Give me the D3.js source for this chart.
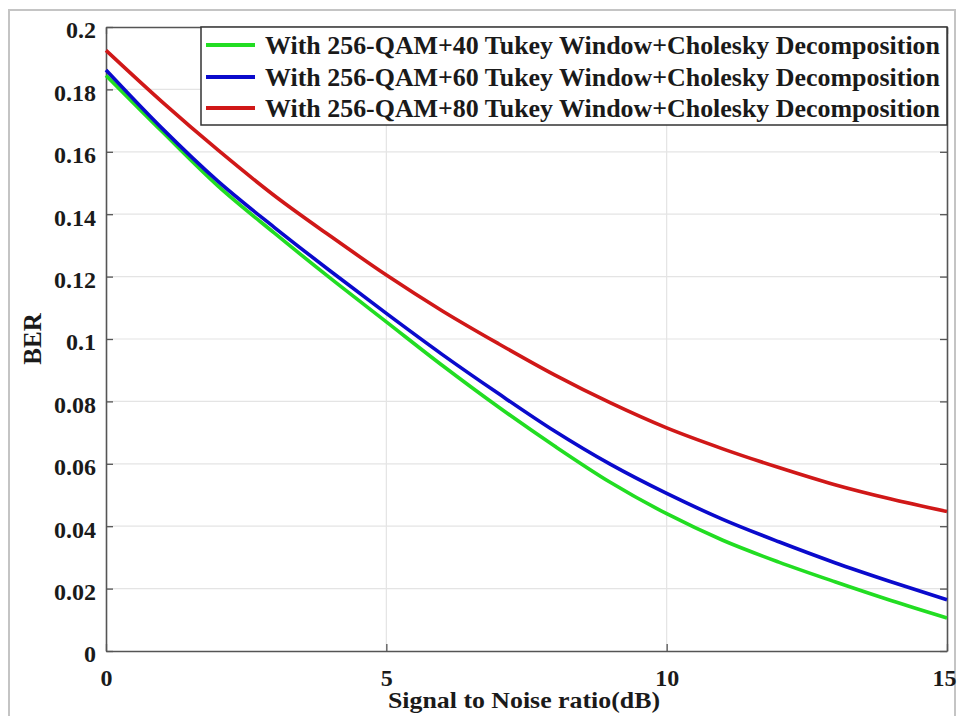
<!DOCTYPE html>
<html>
<head>
<meta charset="utf-8">
<script src="https://cdn.jsdelivr.net/npm/d3@7"></script>
<style>
  html, body { margin: 0; padding: 0; background: #fff; }
  svg { display: block; }
  text { font-family: "Liberation Serif", "Times New Roman", serif; font-weight: bold; fill: #1a1a1a; }
</style>
</head>
<body>
<svg id="chart" width="957" height="716"></svg>
<script>
const snr = [0, 1, 2, 3, 4, 5, 6, 7, 8, 9, 10, 11, 12, 13, 14, 15];
const ber40 = [0.1845, 0.1665, 0.1490, 0.1340, 0.1195, 0.1055, 0.0915, 0.0782, 0.0657, 0.0540, 0.0440, 0.0355, 0.0285, 0.0222, 0.0162, 0.0106];
const ber60 = [0.1862, 0.1675, 0.1505, 0.1358, 0.1218, 0.1082, 0.0950, 0.0825, 0.0705, 0.0598, 0.0505, 0.0422, 0.0350, 0.0283, 0.0222, 0.0164];
const ber80 = [0.1925, 0.1760, 0.1605, 0.1460, 0.1330, 0.1205, 0.1090, 0.0985, 0.0885, 0.0795, 0.0715, 0.0648, 0.0588, 0.0533, 0.0487, 0.0447];
const seriesNames = [
  "With 256-QAM+40 Tukey Window+Cholesky Decomposition",
  "With 256-QAM+60 Tukey Window+Cholesky Decomposition",
  "With 256-QAM+80 Tukey Window+Cholesky Decomposition"
];
const seriesColors = ["#22dd22", "#0a0acc", "#d01818"];
const xTicks = [0, 5, 10, 15];
const yTicks = [0, 0.02, 0.04, 0.06, 0.08, 0.1, 0.12, 0.14, 0.16, 0.18, 0.2];
const xTitle = "Signal to Noise ratio(dB)";
const yTitle = "BER";

const svg = d3.select("#chart");
const L = 106, R = 947, T = 27, B = 651;
const x = d3.scaleLinear().domain([0, 15]).range([L, R]);
const y = d3.scaleLinear().domain([0, 0.2]).range([B, T]);

// outer frame
svg.append("rect").attr("x", 9).attr("y", 10).attr("width", 946).attr("height", 730)
  .attr("fill", "none").attr("stroke", "#c4c4c4").attr("stroke-width", 2);

// grid
const g = svg.append("g");
g.selectAll(".gx").data(xTicks.slice(1, -1)).enter().append("line")
  .attr("x1", d => x(d)).attr("x2", d => x(d)).attr("y1", T).attr("y2", B)
  .attr("stroke", "#e4e4e4").attr("stroke-width", 1.2);
g.selectAll(".gy").data(yTicks.slice(1, -1)).enter().append("line")
  .attr("y1", d => y(d)).attr("y2", d => y(d)).attr("x1", L).attr("x2", R)
  .attr("stroke", "#e4e4e4").attr("stroke-width", 1.2);

// axes (ticks inside)
const fmtY = d => d === 0 ? "0" : String(+d.toFixed(2));
const axB = svg.append("g").attr("transform", `translate(0,${B})`)
  .call(d3.axisBottom(x).tickValues(xTicks).tickSize(-7).tickPadding(21).tickSizeOuter(0));
const axT = svg.append("g").attr("transform", `translate(0,${T})`)
  .call(d3.axisTop(x).tickValues(xTicks).tickSize(-7).tickFormat("").tickSizeOuter(0));
const axL = svg.append("g").attr("transform", `translate(${L},0)`)
  .call(d3.axisLeft(y).tickValues(yTicks).tickFormat(fmtY).tickSize(-7).tickPadding(10).tickSizeOuter(0));
const axR = svg.append("g").attr("transform", `translate(${R},0)`)
  .call(d3.axisRight(y).tickValues(yTicks).tickSize(-7).tickFormat("").tickSizeOuter(0));
[axB, axT, axL, axR].forEach(a => {
  a.selectAll("path").attr("stroke", "#555").attr("stroke-width", 1.6);
  a.selectAll("line").attr("stroke", "#555").attr("stroke-width", 1.3);
  a.selectAll("text").attr("font-family", "Liberation Serif, serif").attr("font-weight", "bold")
    .attr("font-size", 24).attr("fill", "#1a1a1a");
});
axL.selectAll("text").attr("dy", "0.45em");
axB.selectAll("text").attr("dy", "0.6em");
axB.selectAll(".tick").filter(d => d === 15).select("text")
  .attr("text-anchor", "end").attr("x", 956 - R);

// lines
const allSeries = [ber40, ber60, ber80];
const line = d3.line().x((d, i) => x(snr[i])).y(d => y(d)).curve(d3.curveMonotoneX);
svg.append("g").selectAll("path").data(allSeries).enter().append("path")
  .attr("d", d => line(d)).attr("fill", "none")
  .attr("stroke", (d, i) => seriesColors[i]).attr("stroke-width", 3.6)
  .attr("stroke-linejoin", "round");

// legend
const lg = svg.append("g");
lg.append("rect").attr("x", 201).attr("y", T).attr("width", R - 201).attr("height", 98)
  .attr("fill", "#fff").attr("stroke", "#333").attr("stroke-width", 1.5);
const rowsY = [45, 77, 108];
seriesNames.forEach((name, i) => {
  lg.append("line").attr("x1", 206).attr("x2", 255).attr("y1", rowsY[i]).attr("y2", rowsY[i])
    .attr("stroke", seriesColors[i]).attr("stroke-width", 4);
  lg.append("text").attr("x", 265).attr("y", rowsY[i]).attr("dy", "0.36em")
    .attr("font-size", 26).attr("textLength", 675).attr("lengthAdjust", "spacingAndGlyphs")
    .text(name);
});

// axis titles
svg.append("text").attr("x", 524).attr("y", 708).attr("text-anchor", "middle")
  .attr("font-size", 24).attr("textLength", 272).attr("lengthAdjust", "spacingAndGlyphs").text(xTitle);
svg.append("text").attr("transform", "translate(41,339) rotate(-90)").attr("text-anchor", "middle")
  .attr("font-size", 25).text(yTitle);
</script>
</body>
</html>
